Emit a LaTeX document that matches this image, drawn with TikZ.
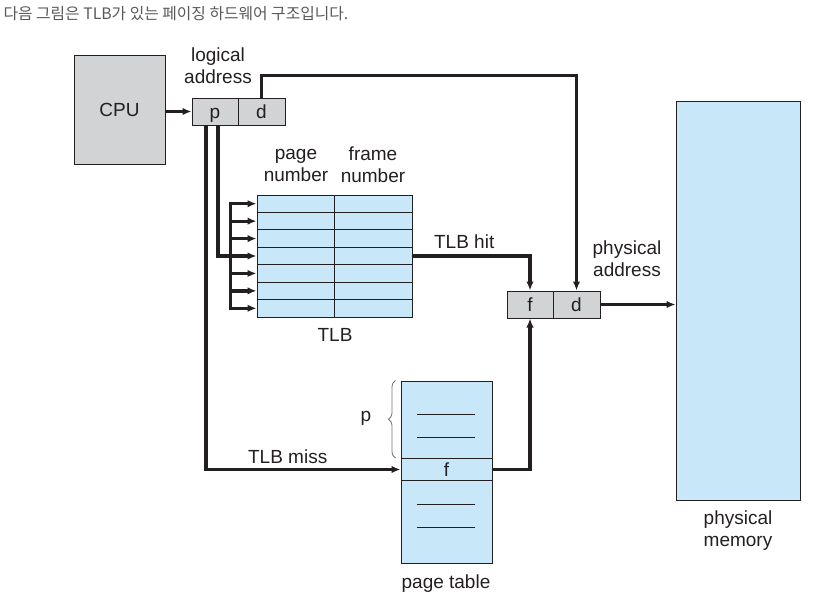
\documentclass[tikz,border=0pt]{standalone}
\usepackage{fontspec}
\setmainfont{Liberation Sans}
\newfontfamily\krfont{Noto Sans CJK KR}
\usetikzlibrary{arrows.meta,decorations.pathreplacing}
\definecolor{boxgray}{HTML}{D1D3D4}
\definecolor{memblue}{HTML}{C8E8FA}
\definecolor{inkdark}{HTML}{231F20}
\tikzset{
    cell/.style={draw=inkdark, line width=1pt, inner sep=0pt},
    graycell/.style={cell, fill=boxgray, minimum height=27pt},
    bluecell/.style={cell, fill=memblue},
    wire/.style={draw=inkdark, line width=3.3pt},
    conn/.style={wire, -{Latex[length=9pt,width=7.5pt]}},
    lbl/.style={text=inkdark, font=\fontsize{19}{22}\selectfont, align=center},
    celltext/.style={lbl, text height=13.7pt, text depth=0pt},
}

\begin{document}
\begin{tikzpicture}[x=1pt,y=-1pt]
        \useasboundingbox (0,0) rectangle (822,603);
        \node[anchor=west, text=black!65, font=\krfont\fontsize{15.8}{18}\selectfont] (title) at (0,14) {다음 그림은 TLB가 있는 페이징 하드웨어 구조입니다.};
        % boxes
        \node[graycell, celltext, minimum width=91pt, minimum height=109pt] (cpu) at (119.5,109.5) {CPU};
        \node[graycell, celltext, minimum width=46pt] (lp) at (215,111.5) {p};
        \node[graycell, celltext, minimum width=47pt] (ld) at (261.5,111.5) {d};
        \node[graycell, celltext, minimum width=46pt] (pf) at (530,304.5) {f};
        \node[graycell, celltext, minimum width=47pt] (pd) at (576.5,304.5) {d};
        \node[bluecell, minimum width=124pt, minimum height=399pt] (mem) at (738,300.5) {};
        \foreach \r in {0,...,6} {
            \node[bluecell, minimum width=77pt, minimum height=17.43pt] (pg\r) at (295.5,{195+17.43*(\r+0.5)}) {};
            \node[bluecell, minimum width=78pt, minimum height=17.43pt] (fr\r) at (373,{195+17.43*(\r+0.5)}) {};
        }
        \node[bluecell, minimum width=91pt, minimum height=182pt] (pt) at (446.5,472) {};
        \node[bluecell, celltext, minimum width=91pt, minimum height=22pt] (ptf) at (446.5,469.5) {f};
        \foreach \yy in {414,437,504,527}
            \draw[inkdark, line width=1pt] (417,\yy) -- (475,\yy);
        % labels
        \node[lbl] (lalabel) at (218,66) {logical\\address};
        \node[lbl] (pnlabel) at (296,165) {page\\number};
        \node[lbl] (fnlabel) at (373,165) {frame\\number};
        \node[lbl] (tlblabel) at (335,335) {TLB};
        \node[lbl] (palabel) at (627,259) {physical\\address};
        \node[lbl] (pmlabel) at (738,531) {physical\\memory};
        \node[lbl] (ptlabel) at (446,584) {page table};
        \node[lbl] (plabel) at (366,418) {p};
        \draw[black!55, line width=0.8pt, decorate, decoration={brace, amplitude=7pt}]
            ([xshift=-5pt]ptf.north west) -- ([xshift=-5pt]pt.north west);
        % connectors
        \draw[conn] (cpu.east |- lp.west) -- (lp.west);
        \draw[conn] (ld.north) -- ++(0,-22) -| (pd.north);
        \draw[wire] ([xshift=3pt]lp.south) |- ([xshift=-26pt]pg3.west);
        \draw[wire, line cap=rect] ([xshift=-26pt]pg0.west) -- ([xshift=-26pt]pg6.west);
        \foreach \r in {0,...,6}
            \draw[conn] ([xshift=-26pt]pg\r.west) -- (pg\r.west);
        \draw[conn] ([xshift=-9pt]lp.south) |- (ptf.west) node[lbl, pos=0.71, above=1pt] {TLB miss};
        \draw[conn] (fr3.east) -| (pf.north) node[lbl, pos=0.22, above=2pt] {TLB hit};
        \draw[conn] (ptf.east) -| (pf.south);
        \draw[conn] (pd.east) -- (pd.east -| mem.west);
    \end{tikzpicture}
\end{document}
